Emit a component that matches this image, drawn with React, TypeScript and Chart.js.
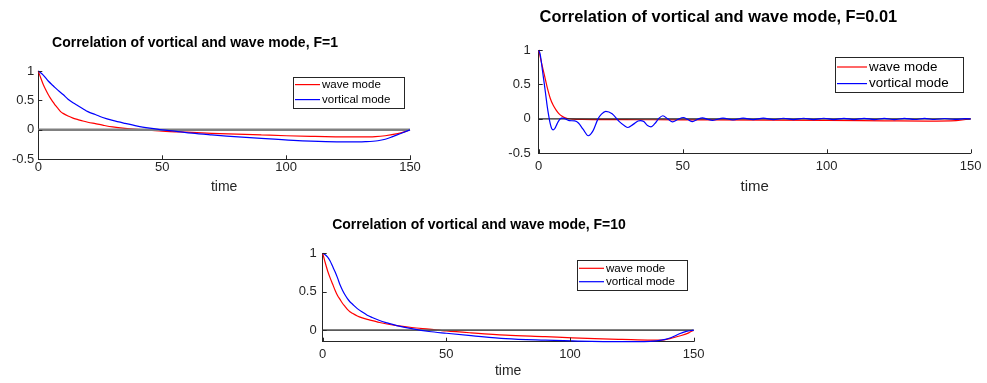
import React, { useEffect, useRef } from "react";
import { Chart, registerables } from "chart.js";

Chart.register(...registerables);

const FONT = "'Liberation Sans', Arial, Helvetica, sans-serif";
Chart.defaults.font.family = FONT;

// ---------------- data ----------------
const seriesLabels = ["wave mode", "vortical mode"];
const xTicks = [0, 50, 100, 150];
const yTicksFull = [-0.5, 0, 0.5, 1];
const yTicksShort = [0, 0.5, 1];
const zeroTime = [0, 150];
const zeroVals = [0, 0];

const titleF1 = "Correlation of vortical and wave mode, F=1";
const titleF001 = "Correlation of vortical and wave mode, F=0.01";
const titleF10 = "Correlation of vortical and wave mode, F=10";

// F = 1
const f1WaveTime = [0, 1, 2, 3, 4, 5, 6, 7, 8, 9, 10, 12, 14, 16, 18, 20, 23, 26, 30, 35, 40, 45, 50, 60, 70, 80, 90, 100, 110, 120, 130, 136, 140, 145, 148, 150];
const f1WaveVals = [1, 0.88, 0.77, 0.68, 0.6, 0.53, 0.47, 0.41, 0.36, 0.31, 0.28, 0.235, 0.2, 0.175, 0.15, 0.13, 0.105, 0.08, 0.05, 0.025, 0.008, -0.005, -0.02, -0.04, -0.058, -0.072, -0.086, -0.1, -0.11, -0.118, -0.12, -0.115, -0.1, -0.065, -0.03, 0];
const f1VortTime = [0, 2, 4, 6, 8, 10, 12, 14, 16, 18, 20, 23, 26, 30, 35, 40, 45, 50, 55, 62, 70, 76, 90, 103, 116, 125, 132, 137, 140, 143, 146, 150];
const f1VortVals = [1, 0.93, 0.83, 0.75, 0.67, 0.6, 0.52, 0.46, 0.41, 0.36, 0.31, 0.26, 0.21, 0.16, 0.11, 0.065, 0.03, 0.0, -0.02, -0.055, -0.085, -0.105, -0.145, -0.178, -0.2, -0.205, -0.2, -0.185, -0.16, -0.115, -0.065, 0];

// F = 0.01
const f001WaveTime = [0, 1, 2, 3, 4, 5, 6, 7, 8, 9, 10, 12, 15, 20, 30, 40, 60, 80, 100, 120, 135, 145, 150];
const f001WaveVals = [1, 0.81, 0.63, 0.45, 0.3, 0.2, 0.13, 0.075, 0.04, 0.018, 0.005, -0.004, -0.008, -0.01, -0.012, -0.013, -0.015, -0.018, -0.022, -0.028, -0.032, -0.025, 0];
const f001VortTime = [0, 0.5, 1, 1.5, 2, 2.5, 3, 3.5, 4, 4.5, 5, 5.6, 6.3, 7, 7.9, 8.6, 9.5, 10.7, 12.5, 13.8, 15.4, 17.2, 18.9, 20.6, 21.8, 23.3, 25.5, 28, 29.8, 31, 32.8, 34.5, 35.3, 36.5, 37.8, 39, 40.3, 41.8, 43.1, 44.8, 46.5, 48.3, 50.2, 51.8, 53.4, 55.2, 56.9, 58.6, 60.4, 64, 67.5, 71, 74.5, 78, 81.5, 85, 88.5, 92, 95.5, 99, 102.5, 106, 109.5, 113, 116.5, 120, 123.5, 127, 130.5, 134, 137.5, 141, 144.5, 148, 150];
const f001VortVals = [1, 0.94, 0.8, 0.64, 0.49, 0.33, 0.17, 0.04, -0.07, -0.14, -0.16, -0.14, -0.08, -0.025, 0.01, 0.012, -0.005, -0.025, -0.03, -0.06, -0.15, -0.245, -0.17, 0.0, 0.07, 0.11, 0.075, -0.04, -0.1, -0.125, -0.08, -0.03, -0.025, -0.04, -0.095, -0.115, -0.07, 0.01, 0.045, 0.0, -0.045, -0.01, 0.02, -0.01, -0.04, -0.005, 0.015, -0.005, -0.022, 0.01, -0.014, 0.01, -0.012, 0.01, -0.012, 0.009, -0.011, 0.009, -0.01, 0.009, -0.01, 0.008, -0.01, 0.008, -0.01, 0.007, -0.01, 0.007, -0.009, 0.006, -0.009, 0.005, -0.008, 0.003, 0];

// F = 10
const f10WaveTime = [0, 1, 2, 3, 4, 5, 6, 7, 8, 9, 10, 11, 12, 14, 16, 18, 20, 23, 26, 30, 36, 43, 50, 60, 74, 90, 101, 110, 121, 133, 138, 141, 145, 148, 150];
const f10WaveVals = [1, 0.88, 0.77, 0.68, 0.6, 0.52, 0.45, 0.4, 0.35, 0.31, 0.27, 0.24, 0.22, 0.185, 0.16, 0.14, 0.125, 0.1, 0.08, 0.06, 0.035, 0.013, -0.01, -0.035, -0.065, -0.085, -0.1, -0.11, -0.12, -0.13, -0.125, -0.105, -0.07, -0.035, 0];
const f10VortTime = [0, 1, 2, 3, 4, 5, 6, 7, 8, 9, 10, 11, 12, 14, 16, 18, 20, 23, 26, 30, 36, 43, 50, 60, 74, 90, 101, 121, 130, 135, 138.6, 141, 144, 147, 150];
const f10VortVals = [1, 0.98, 0.95, 0.9, 0.83, 0.76, 0.68, 0.59, 0.52, 0.46, 0.41, 0.37, 0.34, 0.28, 0.235, 0.195, 0.165, 0.125, 0.095, 0.06, 0.02, -0.017, -0.04, -0.07, -0.11, -0.13, -0.14, -0.15, -0.15, -0.14, -0.12, -0.095, -0.05, -0.015, 0];

// ---------------- layout / style config ----------------
type PanelCfg = {
  title: string;
  waveT: number[]; waveV: number[]; vortT: number[]; vortV: number[];
  yMin: number; yMax: number; yTicks: number[];
  area: { L: number; T: number; R: number; B: number };
  titleX: number; titleY: number; titleSize: number;
  tickSize: number; labelSize: number; timeY: number;
  xLabelPad: number; yLabelPad: number;
  zeroColor: string; zeroWidth: number;
  legend: { right: number; top: number; w: number; h: number; size: number; line: number; rows: number[] };
};

const panels: PanelCfg[] = [
  {
    title: titleF1, waveT: f1WaveTime, waveV: f1WaveVals, vortT: f1VortTime, vortV: f1VortVals,
    yMin: -0.5, yMax: 1, yTicks: yTicksFull,
    area: { L: 38.3, T: 71, R: 410, B: 159.3 },
    titleX: 195, titleY: 43.5, titleSize: 14, tickSize: 13, labelSize: 14, timeY: 187.5,
    xLabelPad: 0, yLabelPad: 4, zeroColor: "#808080", zeroWidth: 2.5,
    legend: { right: 6, top: 5.7, w: 111, h: 31, size: 11.5, line: 25, rows: [7.6, 22.6] },
  },
  {
    title: titleF001, waveT: f001WaveTime, waveV: f001WaveVals, vortT: f001VortTime, vortV: f001VortVals,
    yMin: -0.5, yMax: 1, yTicks: yTicksFull,
    area: { L: 538.7, T: 50, R: 972.7, B: 153.3 },
    titleX: 718.3, titleY: 17.8, titleSize: 16.4, tickSize: 13, labelSize: 15, timeY: 186.7,
    xLabelPad: 5.5, yLabelPad: 8, zeroColor: "#262626", zeroWidth: 1.3,
    legend: { right: 7.7, top: 6.7, w: 128, h: 35, size: 13.4, line: 30, rows: [10, 26.6] },
  },
  {
    title: titleF10, waveT: f10WaveTime, waveV: f10WaveVals, vortT: f10VortTime, vortV: f10VortVals,
    yMin: -0.15, yMax: 1, yTicks: yTicksShort,
    area: { L: 322.7, T: 253.3, R: 695, B: 341.7 },
    titleX: 479.2, titleY: 225, titleSize: 14, tickSize: 13, labelSize: 14, timeY: 370.8,
    xLabelPad: 4.5, yLabelPad: 6, zeroColor: "#595959", zeroWidth: 1.6,
    legend: { right: 7, top: 6.7, w: 110, h: 30, size: 11.6, line: 25, rows: [8.3, 21.7] },
  },
];

function geometry(p: PanelCfg) {
  const lh = 1.2 * p.titleSize;
  const cl = Math.round(2 * p.titleX - p.area.R);
  const yW = p.area.L - cl;
  const cw = Math.ceil(p.area.R + 14 - cl);
  const padR = cw - (p.area.R - cl);
  const ct = Math.floor(p.titleY - lh / 2 - 2);
  const tPadTop = p.titleY - lh / 2 - ct;
  const tPadBottom = p.area.T - ct - tPadTop - lh;
  const xlh = 1.2 * p.labelSize;
  const xH = p.timeY + xlh / 2 - p.area.B;
  const ch = Math.ceil(p.area.B + xH + 4 - ct);
  const padB = ch - (p.area.B + xH - ct);
  return { cl, ct, cw, ch, yW, padR, padB, tPadTop, tPadBottom, xH };
}

const toPts = (t: number[], v: number[]) => t.map((x, i) => ({ x, y: v[i] }));

const legendBox = {
  id: "legendBox",
  afterDraw(chart: any, _args: any, opts: any) {
    const { ctx, chartArea } = chart;
    const x = Math.round(chartArea.right - opts.right - opts.w);
    const y = Math.round(chartArea.top + opts.top);
    ctx.save();
    ctx.fillStyle = "#ffffff";
    ctx.fillRect(x, y, opts.w, opts.h);
    ctx.strokeStyle = "#262626";
    ctx.lineWidth = 1;
    ctx.strokeRect(x + 0.5, y + 0.5, Math.round(opts.w), Math.round(opts.h));
    const items = chart.data.datasets.filter((d: any) => d.label);
    items.forEach((d: any, i: number) => {
      const ry = y + opts.rows[i];
      ctx.strokeStyle = d.borderColor;
      ctx.lineWidth = d.borderWidth;
      ctx.beginPath();
      ctx.moveTo(x + 2, ry);
      ctx.lineTo(x + 2 + opts.line, ry);
      ctx.stroke();
      ctx.fillStyle = "#000000";
      ctx.font = `${opts.size}px ${FONT}`;
      ctx.textBaseline = "middle";
      ctx.textAlign = "left";
      ctx.fillText(d.label, x + 2 + opts.line + 2, ry);
    });
    ctx.restore();
  },
};

const inTicks = {
  id: "inTicks",
  afterDatasetsDraw(chart: any, _args: any, opts: any) {
    const { ctx, chartArea, scales } = chart;
    const xs = scales.x;
    const ys = scales.y;
    ctx.save();
    ctx.strokeStyle = "#262626";
    ctx.lineWidth = 1;
    ctx.beginPath();
    xs.ticks.forEach((t: any) => {
      const px = Math.round(xs.getPixelForValue(t.value)) + 0.5;
      ctx.moveTo(px, chartArea.bottom);
      ctx.lineTo(px, chartArea.bottom - opts.len);
    });
    ys.ticks.forEach((t: any) => {
      const py = Math.round(ys.getPixelForValue(t.value)) + 0.5;
      ctx.moveTo(chartArea.left, py);
      ctx.lineTo(chartArea.left + opts.len, py);
    });
    ctx.stroke();
    ctx.restore();
  },
};

function PanelChart({ p }: { p: PanelCfg }) {
  const ref = useRef<HTMLCanvasElement>(null);
  const g = geometry(p);
  useEffect(() => {
    const chart = new Chart(ref.current as HTMLCanvasElement, {
      type: "line",
      data: {
        datasets: [
          { label: seriesLabels[0], data: toPts(p.waveT, p.waveV), borderColor: "#ff0000", borderWidth: 1.2, pointRadius: 0, cubicInterpolationMode: "monotone", order: 2, clip: 4 } as any,
          { label: seriesLabels[1], data: toPts(p.vortT, p.vortV), borderColor: "#0000ff", borderWidth: 1.2, pointRadius: 0, cubicInterpolationMode: "monotone", order: 0, clip: 4 } as any,
          { label: "", data: toPts(zeroTime, zeroVals), borderColor: p.zeroColor, borderWidth: p.zeroWidth, pointRadius: 0, order: 1, clip: 4 } as any,
        ],
      },
      options: {
        responsive: false,
        animation: false,
        devicePixelRatio: 1,
        events: [],
        layout: { padding: { left: 0, top: 0, right: g.padR, bottom: g.padB } },
        plugins: {
          legend: { display: false },
          tooltip: { enabled: false },
          title: {
            display: true,
            text: p.title,
            color: "#000000",
            font: { size: p.titleSize, weight: "bold", family: FONT },
            padding: { top: g.tPadTop, bottom: g.tPadBottom },
          },
          legendBox: p.legend,
          inTicks: { len: 4 },
        } as any,
        scales: {
          x: {
            type: "linear",
            min: 0,
            max: 150,
            afterBuildTicks: (s: any) => { s.ticks = xTicks.map((v) => ({ value: v })); },
            afterFit: (s: any) => { s.height = g.xH; },
            grid: { display: true, drawOnChartArea: false, drawTicks: false },
            border: { display: true, color: "#262626", width: 1 },
            ticks: { color: "#262626", font: { size: p.tickSize }, padding: p.xLabelPad, maxRotation: 0, autoSkip: false, callback: (v: any) => String(v) },
            title: { display: true, text: "time", color: "#262626", font: { size: p.labelSize }, padding: 0 },
          },
          y: {
            type: "linear",
            min: p.yMin,
            max: p.yMax,
            afterBuildTicks: (s: any) => { s.ticks = p.yTicks.map((v) => ({ value: v })); },
            afterFit: (s: any) => { s.width = g.yW; },
            grid: { display: true, drawOnChartArea: false, drawTicks: false },
            border: { display: true, color: "#262626", width: 1 },
            ticks: { color: "#262626", font: { size: p.tickSize }, padding: p.yLabelPad, autoSkip: false, callback: (v: any) => String(v) },
          },
        } as any,
      },
      plugins: [legendBox, inTicks],
    });
    return () => chart.destroy();
  }, []);
  return (
    <canvas
      ref={ref}
      width={g.cw}
      height={g.ch}
      style={{ position: "absolute", left: g.cl, top: g.ct, width: g.cw, height: g.ch, display: "block" }}
    />
  );
}

export default function App() {
  return (
    <div style={{ position: "absolute", left: 0, top: 0, width: 987, height: 383, background: "#ffffff", overflow: "hidden" }}>
      {panels.map((p, i) => (
        <PanelChart key={i} p={p} />
      ))}
    </div>
  );
}
